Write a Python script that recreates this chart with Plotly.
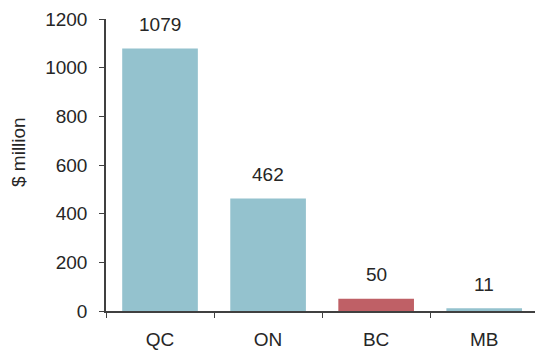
import plotly.graph_objects as go

categories = ["QC", "ON", "BC", "MB"]
values = [1079, 462, 50, 11]
bar_colors = ["#94C2CE", "#94C2CE", "#BF6066", "#94C2CE"]
y_ticks = [0, 200, 400, 600, 800, 1000, 1200]

FONT = "Liberation Sans, Arial, sans-serif"
TXT = "#262626"

fig = go.Figure()
fig.add_trace(go.Bar(x=categories, y=values, marker=dict(color=bar_colors, line=dict(width=0)),
                     hoverinfo="skip"))

for c, v in zip(categories, values):
    fig.add_annotation(x=c, y=v, text=str(v), showarrow=False, yanchor="middle", yshift=24,
                       font=dict(family=FONT, size=19, color=TXT))

fig.add_annotation(xref="paper", yref="paper", x=-106/429 + 18.5/429, y=(311-152.5)/292,
                   text="$ million", textangle=-90, showarrow=False,
                   xanchor="center", yanchor="middle",
                   font=dict(family=FONT, size=19, color=TXT))

fig.update_layout(
    width=535, height=351,
    margin=dict(l=106, r=0, t=19, b=40),
    paper_bgcolor="white", plot_bgcolor="white",
    bargap=0.3, showlegend=False,
    font=dict(family=FONT, size=19, color=TXT),
)
fig.update_xaxes(range=[-0.5, 3.47], showline=True, linecolor="#404040", linewidth=1.5,
                 ticks="outside", tickson="boundaries", ticklen=5, tickcolor="#404040",
                 showgrid=False, ticklabelstandoff=10, tickfont=dict(family=FONT, size=19, color=TXT))
fig.update_yaxes(range=[0, 1200], tickvals=y_ticks, showline=True, linecolor="#404040", linewidth=1.5,
                 ticks="outside", ticklen=5, tickcolor="#404040", showgrid=False, zeroline=False,
                 ticklabelstandoff=8, tickfont=dict(family=FONT, size=19, color=TXT))

fig.write_html("out.html")
